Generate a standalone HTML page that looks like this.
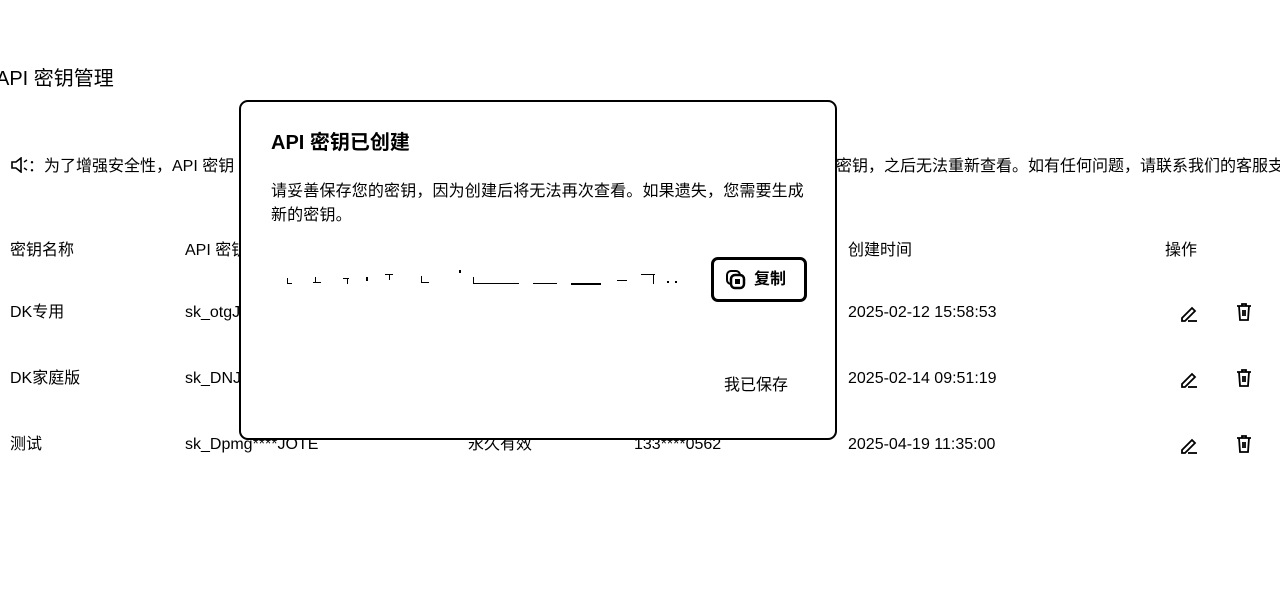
<!DOCTYPE html>
<html><head><meta charset="utf-8"><style>
*{margin:0;padding:0;box-sizing:border-box}
body{width:1280px;height:598px;background:#fff;position:relative;overflow:hidden;font-family:"Liberation Sans","Noto Sans CJK SC",sans-serif;color:#000;font-size:16px}
.t{position:absolute;white-space:nowrap;line-height:20px}
.modal{position:absolute;left:239px;top:100px;width:598px;height:340px;border:2px solid #000;border-radius:9px;background:#fff;z-index:5}
.btn{position:absolute;left:470px;top:155px;width:96px;height:45px;border:3px solid #000;border-radius:7px}
</style></head><body>
<div class="t" style="left:-4px;top:67px;font-size:20px;line-height:24px">API 密钥管理</div>
<div class="t" style="left:10px;top:157px"><svg width="18" height="16" viewBox="0 0 18 16" style="vertical-align:-2px"><path d="M2 5h4l5-4v14l-5-4H2z" fill="none" stroke="#000" stroke-width="1.6"/><path d="M14 5l3-2M14 11l3 2" stroke="#000" stroke-width="1.4"/></svg>：为了增强安全性，API 密钥</div>
<div class="t" style="left:836px;top:157px">密钥，之后无法重新查看。如有任何问题，请联系我们的客服支</div>

<div class="t" style="left:10px;top:241px">密钥名称</div>
<div class="t" style="left:185px;top:241px">API 密钥</div>
<div class="t" style="left:848px;top:241px">创建时间</div>
<div class="t" style="left:1165px;top:241px">操作</div>

<div class="t" style="left:10px;top:303px">DK专用</div>
<div class="t" style="left:185px;top:303px">sk_otgJ</div>
<div class="t" style="left:848px;top:303px">2025-02-12 15:58:53</div>
<div class="t" style="left:10px;top:369px">DK家庭版</div>
<div class="t" style="left:185px;top:369px">sk_DNJ</div>
<div class="t" style="left:848px;top:369px">2025-02-14 09:51:19</div>
<div class="t" style="left:10px;top:435px">测试</div>
<div class="t" style="left:185px;top:435px">sk_Dpmg****JOTE</div>
<div class="t" style="left:468px;top:435px">永久有效</div>
<div class="t" style="left:634px;top:435px">133****0562</div>
<div class="t" style="left:848px;top:435px">2025-04-19 11:35:00</div>

<svg style="position:absolute;left:0;top:0" width="1280" height="598">
<g fill="none" stroke="#000" stroke-width="1.8">
<path d="M1182 318l10-10 3 3-10 10h-3z"/><path d="M1188 321h9"/>
<path d="M1182 384l10-10 3 3-10 10h-3z"/><path d="M1188 387h9"/>
<path d="M1182 450l10-10 3 3-10 10h-3z"/><path d="M1188 453h9"/>
<path d="M1237 306h14M1242 306v-2h4v2M1239 306l1 14h8l1-14M1243 310v6M1245 310v6"/>
<path d="M1237 372h14M1242 372v-2h4v2M1239 372l1 14h8l1-14M1243 376v6M1245 376v6"/>
<path d="M1237 438h14M1242 438v-2h4v2M1239 438l1 14h8l1-14M1243 442v6M1245 442v6"/>
</g></svg>

<div class="modal">
<div class="t" style="left:30px;top:29px;font-size:20px;font-weight:bold;line-height:24px">API 密钥已创建</div>
<div class="t" style="left:30px;top:80px;letter-spacing:0.15px">请妥善保存您的密钥，因为创建后将无法再次查看。如果遗失，您需要生成</div>
<div class="t" style="left:30px;top:104px;letter-spacing:0.15px">新的密钥。</div>
<svg style="position:absolute;left:40px;top:165px" width="400" height="30"><g fill="#000">
<rect x="6" y="16" width="5" height="1"/><rect x="6" y="11" width="1" height="6"/><rect x="32" y="15" width="8" height="1"/><rect x="34" y="10" width="1" height="6"/><rect x="62" y="11" width="6" height="1"/><rect x="66" y="11" width="1" height="6"/><rect x="85" y="10" width="2" height="4"/><rect x="104" y="7" width="8" height="1"/><rect x="108" y="7" width="1" height="6"/><rect x="140" y="15" width="8" height="1"/><rect x="140" y="9" width="1" height="7"/><rect x="178" y="3" width="2" height="3"/><rect x="192" y="16" width="46" height="1"/><rect x="192" y="10" width="1" height="7"/><rect x="252" y="16" width="24" height="1"/><rect x="290" y="16" width="30" height="2"/><rect x="336" y="13" width="10" height="1"/><rect x="360" y="7" width="14" height="1"/><rect x="372" y="7" width="1" height="10"/><rect x="386" y="14" width="2" height="2"/><rect x="394" y="14" width="2" height="2"/>
</g></svg>
<div class="btn"><svg style="position:absolute;left:12px;top:10px" width="20" height="20" viewBox="0 0 20 20"><rect x="1" y="1" width="13" height="13" rx="4" fill="none" stroke="#000" stroke-width="2"/><rect x="5" y="5" width="13" height="13" rx="4" fill="#fff" stroke="#000" stroke-width="2.5"/><rect x="9" y="9" width="5" height="5" fill="#000"/></svg><div class="t" style="left:40px;top:10px;font-size:16px;font-weight:bold">复制</div></div>
<div class="t" style="left:483px;top:274px">我已保存</div>
</div>
</body></html>
